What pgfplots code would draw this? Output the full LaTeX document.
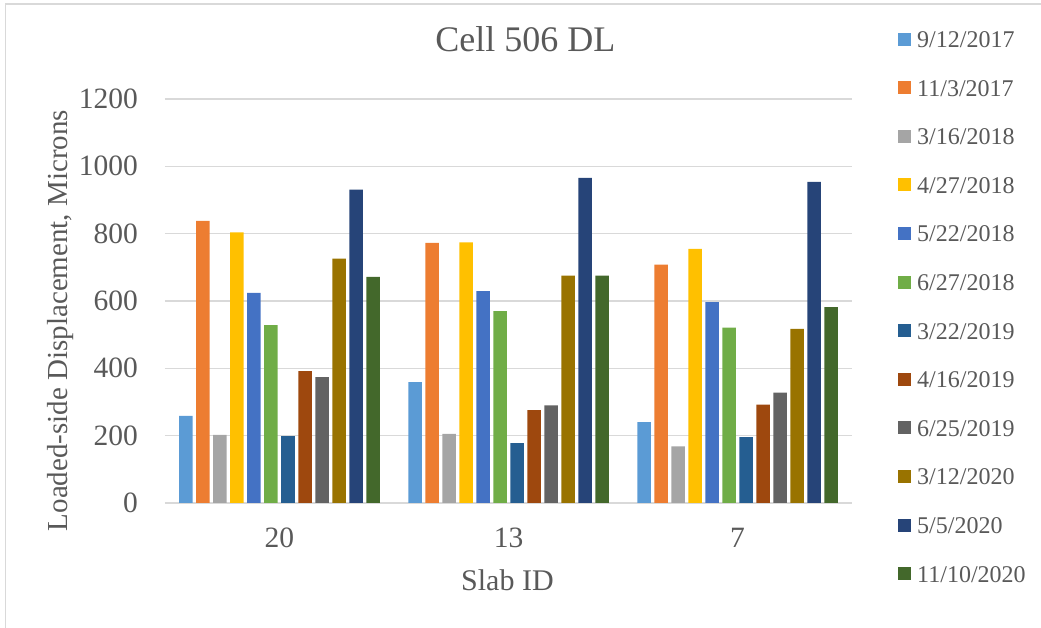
\documentclass[border=0pt]{standalone}
\usepackage{pgfplots}
\pgfplotsset{compat=1.18}
\usepackage{fontspec}
\setmainfont{Liberation Serif}

\definecolor{txt}{HTML}{595959}
\definecolor{gridgray}{HTML}{D9D9D9}
\definecolor{c1}{HTML}{5B9BD5}
\definecolor{c2}{HTML}{ED7D31}
\definecolor{c3}{HTML}{A5A5A5}
\definecolor{c4}{HTML}{FFC000}
\definecolor{c5}{HTML}{4472C4}
\definecolor{c6}{HTML}{70AD47}
\definecolor{c7}{HTML}{255E91}
\definecolor{c8}{HTML}{9E480E}
\definecolor{c9}{HTML}{636363}
\definecolor{c10}{HTML}{997300}
\definecolor{c11}{HTML}{264478}
\definecolor{c12}{HTML}{43682B}

\begin{document}
\begin{tikzpicture}[x=1pt,y=1pt]
\begin{axis}[
  scale only axis,
  width=687pt, height=404pt,
  ybar=3.5pt, bar width=13.5pt,
  xmin=-0.5, xmax=2.5,
  ymin=0, ymax=1200,
  xtick={0,1,2}, xticklabels={20,13,7},
  ytick={0,200,...,1200},
  yticklabel={\pgfmathprintnumber[assume math mode=true,1000 sep={}]{\tick}},
  major tick length=0pt,
  axis line style={draw=none},
  ymajorgrids, xmajorgrids=false,
  grid style={draw=gridgray, line width=1.3pt},
  tick label style={font=\fontsize{29.5}{32}\selectfont, text=txt, inner sep=0pt},
  yticklabel style={anchor=east, xshift=-27pt},
  xticklabel style={anchor=north, yshift=-25pt},
  title={Cell 506 DL},
  title style={at={(axis description cs:0.5247,1.1032)}, anchor=base, inner sep=0pt,
    font=\fontsize{36}{40}\selectfont, text=txt},
  xlabel={Slab ID},
  xlabel style={at={(axis description cs:0.4985,-0.2171)}, anchor=base, inner sep=0pt,
    font=\fontsize{30}{34}\selectfont, text=txt},
  ylabel={Loaded-side Displacement, Microns},
  ylabel style={at={(axis description cs:-0.1426,0.4517)}, anchor=base, inner sep=0pt,
    font=\fontsize{29}{34}\selectfont, text=txt},
  legend image code/.code={\fill[#1,draw=none] (0pt,-6.5pt) rectangle (13pt,6.5pt);},
  legend style={at={(axis description cs:1.0670,1.1692)}, anchor=north west,
    draw=none, fill=none, inner sep=0pt, row sep=32pt, column sep=6pt,
    font=\fontsize{24}{28}\selectfont, text=txt,
    nodes={inner sep=0pt, text height=16.6pt, text depth=0pt}},
  legend cell align=left,
]
\addplot[fill=c1, draw=none] coordinates {(0,259) (1,359) (2,240)};
\addplot[fill=c2, draw=none] coordinates {(0,838) (1,773) (2,708)};
\addplot[fill=c3, draw=none] coordinates {(0,202) (1,205) (2,168)};
\addplot[fill=c4, draw=none] coordinates {(0,804) (1,774) (2,755)};
\addplot[fill=c5, draw=none] coordinates {(0,624) (1,629) (2,597)};
\addplot[fill=c6, draw=none] coordinates {(0,528) (1,570) (2,521)};
\addplot[fill=c7, draw=none] coordinates {(0,199) (1,178) (2,196)};
\addplot[fill=c8, draw=none] coordinates {(0,392) (1,276) (2,292)};
\addplot[fill=c9, draw=none] coordinates {(0,374) (1,290) (2,328)};
\addplot[fill=c10, draw=none] coordinates {(0,726) (1,675) (2,517)};
\addplot[fill=c11, draw=none] coordinates {(0,931) (1,966) (2,954)};
\addplot[fill=c12, draw=none] coordinates {(0,672) (1,675) (2,582)};
\legend{9/12/2017,11/3/2017,3/16/2018,4/27/2018,5/22/2018,6/27/2018,
  3/22/2019,4/16/2019,6/25/2019,3/12/2020,5/5/2020,11/10/2020}
\end{axis}
\pgfresetboundingbox
\useasboundingbox (-165,-125) rectangle (876,503);
\draw[gridgray, line width=1.3pt] (-159.5,-200) rectangle (1000,499);
\end{tikzpicture}
\end{document}
